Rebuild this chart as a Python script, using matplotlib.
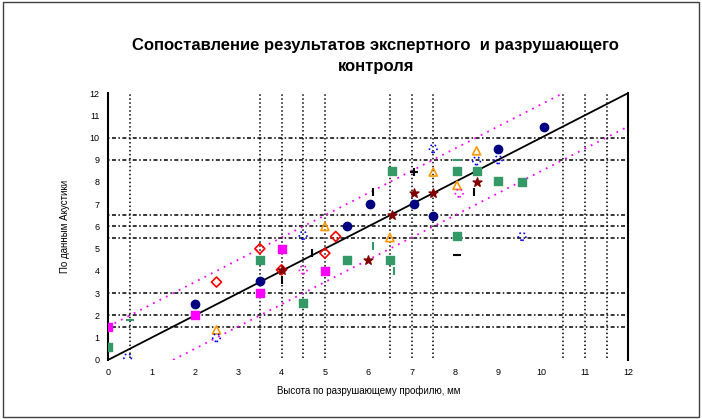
import matplotlib.pyplot as plt
from matplotlib.patches import Rectangle

plt.rcParams['font.family'] = ['Liberation Sans', 'DejaVu Sans']

# --- data (x = разрушающий контроль, y = экспертный) ---
navy_x = [2.0, 3.5, 5.5, 6.05, 7.05, 7.5, 9.0, 10.05]
navy_y = [2.5, 3.55, 6.0, 7.0, 7.0, 6.45, 9.5, 10.45]

green_x = [0.0, 3.5, 4.5, 5.5, 6.5, 6.55, 8.05, 8.5, 8.05, 9.55, 9.0]
green_y = [0.6, 4.5, 2.55, 4.5, 4.5, 8.5, 8.5, 8.5, 5.55, 8.0, 8.05]

magenta_x = [0.0, 2.0, 3.5, 4.0, 5.0]
magenta_y = [1.5, 2.0, 3.0, 5.0, 4.0]

orange_x = [2.5, 5.0, 6.5, 7.5, 8.5, 8.05]
orange_y = [1.35, 6.0, 5.5, 8.45, 9.4, 7.85]

blue_x = [0.45, 2.5, 7.5, 8.5, 9.0, 9.55, 4.5]
blue_y = [0.1, 1.0, 9.5, 8.95, 9.0, 5.55, 5.6]

red_x = [2.5, 3.5, 5.25, 4.0, 5.0]
red_y = [3.5, 5.0, 5.55, 4.05, 4.8]

maroon_x = [6.0, 6.55, 7.05, 7.5, 8.5, 4.0]
maroon_y = [4.5, 6.5, 7.5, 7.5, 8.0, 4.05]

black_x = [4.0, 6.1, 8.45, 7.05, 4.7]
black_y = [3.6, 7.55, 7.55, 8.45, 4.8]
black_hx = [8.05, 7.05]
black_hy = [4.7, 8.45]

greenbar_x = [6.1, 6.6]
greenbar_y = [5.1, 4.0]
greendash_x = [0.5, 8.05]
greendash_y = [1.8, 9.0]

pinkring_x = [4.5, 8.1]
pinkring_y = [4.05, 7.5]

# regression y = x and the +-1.5 band
fit_x = [0, 12]
fit_y = [0, 12]
band = 1.5

# dotted reference lines
vlines = [0.5, 3.5, 4.0, 4.5, 5.0, 6.5, 7.0, 7.5, 10.5, 11.0, 11.5]
hlines = [1.5, 2.0, 3.0, 5.5, 6.0, 6.5, 9.0, 10.0]

ticks = list(range(0, 13))

title = 'Сопоставление результатов экспертного  и разрушающего\nконтроля'
xlab = 'Высота по разрушающему профилю, мм'
ylab = 'По данным Акустики'

fig = plt.figure(figsize=(7.02, 4.19), dpi=100)
fig.patches.append(Rectangle((0.004, 0.005), 0.992, 0.99, transform=fig.transFigure,
                             fill=False, edgecolor='#404040', linewidth=1.0))
ax = fig.add_axes([0.154, 0.141, 0.741, 0.637])

for v in vlines:
    ax.plot([v, v], [0.1, 12], color='black', linestyle=(0, (1, 1.6)), linewidth=1.1, zorder=1)
for h in hlines:
    ax.plot([0, 11.95], [h, h], color='black', linestyle=(0, (1, 1.6, 2.6, 1.6)), linewidth=1.1, zorder=1)

ax.plot(fit_x, fit_y, color='black', linewidth=1.3, zorder=2)
ax.plot([0, 12 - band], [band, 12], color='#ff00ff', linestyle=(0, (1, 3)), linewidth=1.3, zorder=2)
ax.plot([band, 12], [0, 12 - band], color='#ff00ff', linestyle=(0, (1, 3)), linewidth=1.3, zorder=2)

ax.scatter(green_x, green_y, marker='s', s=38, color='#339966', zorder=3)
ax.scatter(navy_x, navy_y, marker='o', s=36, color='#000080', zorder=3)
ax.scatter(magenta_x, magenta_y, marker='s', s=26, color='#ff00ff', zorder=3)
ax.scatter(orange_x, orange_y, marker='^', s=34, facecolor='none', edgecolor='#ff9900', linewidth=1.2, zorder=3)
ax.scatter(blue_x, blue_y, marker='o', s=30, facecolor='none', edgecolor='#0000ff', linestyle=':', linewidth=1.2, zorder=3)
ax.scatter(red_x, red_y, marker='D', s=26, facecolor='none', edgecolor='#ff0000', linewidth=1.2, zorder=3)
ax.scatter(maroon_x, maroon_y, marker='*', s=45, color='#800000', zorder=4)
ax.scatter(black_x, black_y, marker='|', s=40, color='black', linewidth=1.5, zorder=4)
ax.scatter(black_hx, black_hy, marker='_', s=40, color='black', linewidth=1.5, zorder=4)
ax.scatter(greenbar_x, greenbar_y, marker='|', s=40, color='#339966', linewidth=1.5, zorder=4)
ax.scatter(greendash_x, greendash_y, marker='_', s=40, color='#339966', linewidth=1.5, zorder=4)
ax.scatter(pinkring_x, pinkring_y, marker='o', s=30, facecolor='none', edgecolor='#ff00ff', linestyle=':', linewidth=1.2, zorder=3)

ax.set_xlim(0, 12)
ax.set_ylim(0, 12)
ax.set_xticks(ticks)
ax.set_yticks(ticks)
ax.tick_params(length=0, labelsize=6.5, pad=6)
for s in ['top', 'bottom']:
    ax.spines[s].set_visible(False)
ax.spines['left'].set_linewidth(1.5)
ax.spines['right'].set_linewidth(1.5)

ax.set_xlabel(xlab, fontsize=7, labelpad=6)
ax.set_ylabel(ylab, fontsize=7, labelpad=14)
fig.text(0.535, 0.866, title, ha='center', va='center', fontsize=12, fontweight='bold',
         linespacing=1.45)

fig.savefig('out.png', dpi=100)
